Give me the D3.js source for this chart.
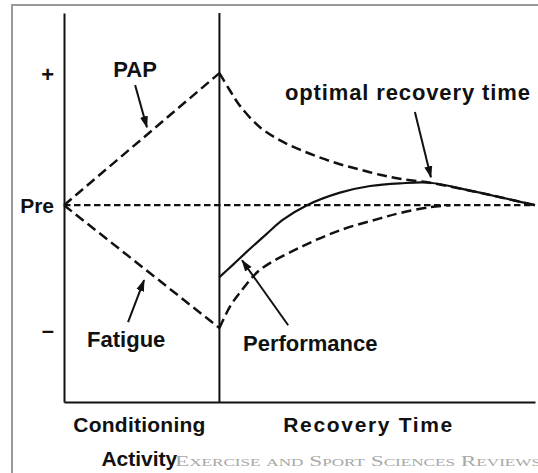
<!DOCTYPE html>
<html>
<head>
<meta charset="utf-8">
<script src="https://cdn.jsdelivr.net/npm/d3@7"></script>
<style>
  body { margin: 0; background: #fff; }
  svg { display: block; }
  .lbl { font-family: "Liberation Sans", Arial, sans-serif; font-weight: bold; fill: #111; }
</style>
</head>
<body>
<script>
// time runs 0..100 (conditioning ends at 33), response is relative to "Pre" = 0
const preLine = [[0, 0], [100, 0]];
const papRise = [[0, 0], [33, 100]];
const fatigueFall = [[0, 0], [33, -93]];

const papDecayX = [33, 35.2, 37.4, 41.6, 45.9, 50.1, 54.4, 58.6, 62.8, 67.1, 71.3, 77.7, 86.2, 92.6, 100];
const papDecayV = [100, 87, 75, 59, 49, 42, 36, 31, 27, 23, 20, 17, 11, 6, 0];

const fatigueRecX = [33, 35.2, 37.4, 41.6, 50.1, 58.6, 67.1, 71.3, 77.7, 82];
const fatigueRecV = [-93, -77, -66, -49, -32, -19, -10, -6, -1.5, 0];

const perfX = [33, 35.9, 39.5, 43.1, 46.5, 51.6, 58.6, 65, 71.3, 77.7, 86.2, 92.6, 100];
const perfV = [-54.5, -45, -33, -21.5, -11, 0, 9.5, 14.5, 16.5, 17, 11, 6, 0];

const yTicks = [100, 0, -94];
const yTickLabels = ["+", "Pre", "\u2013"];

const phaseNames = [["Conditioning", "Activity"], ["Recovery Time"]];
const phaseCenters = [16, 64.5];
const phaseEnd = 33;

// annotations: text, x, v (baseline), anchor
const labels = [
    { text: "PAP", x: 15.1, v: 97, anchor: "middle" },
    { text: "optimal recovery time", x: 46.9, v: 79.5, anchor: "start", len: 245 },
    { text: "Fatigue", x: 4.9, v: -107.6, anchor: "start" },
    { text: "Performance", x: 38, v: -110.6, anchor: "start" }
];
// arrows: tail -> tip
const arrows = [
    [[15.1, 90.9], [17.6, 59]],
    [[74.5, 70.5], [77.9, 21.2]],
    [[13.6, -88.6], [17.0, -56.8]],
    [[47.6, -90.9], [37.8, -41.7]]
];

const W = 538, H = 473;

const x = d3.scaleLinear().domain([0, 100]).range([64, 535]);
const y = d3.scaleLinear().domain([-149, 145.5]).range([402, 13]);

const svg = d3.select("body").append("svg")
    .attr("width", W)
    .attr("height", H);

// outer frame (cropped on the right/bottom)
svg.append("rect")
    .attr("x", 12).attr("y", 5)
    .attr("width", 560).attr("height", 500)
    .attr("fill", "none")
    .attr("stroke", "#999")
    .attr("stroke-width", 2);

svg.append("defs").append("marker")
    .attr("id", "head")
    .attr("markerUnits", "userSpaceOnUse")
    .attr("viewBox", "0 -5 12 10")
    .attr("markerWidth", 12).attr("markerHeight", 10)
    .attr("refX", 11).attr("refY", 0)
    .attr("orient", "auto")
    .append("path")
    .attr("d", "M0,-4L12,0L0,4Z")
    .attr("fill", "#111");

/**
 * Axes
 */
const yAxis = svg.append("g")
    .attr("transform", "translate(" + x(0) + ",0)")
    .call(d3.axisLeft(y)
        .tickValues(yTicks)
        .tickFormat((d, i) => yTickLabels[i])
        .tickSize(0)
        .tickSizeOuter(0)
        .tickPadding(10));

yAxis.select(".domain").attr("stroke", "#111").attr("stroke-width", 2);
yAxis.selectAll("text")
    .attr("class", "lbl")
    .style("font-size", "21px")
    .attr("dy", "0.36em");
yAxis.selectAll(".tick").filter((d, i) => i !== 1)
    .select("text").style("font-size", "22px");

const xAxis = svg.append("g")
    .attr("transform", "translate(0," + y.range()[0] + ")")
    .call(d3.axisBottom(x).tickValues([]).tickSizeOuter(0));
xAxis.select(".domain").attr("stroke", "#111").attr("stroke-width", 2);

// divider between conditioning and recovery
svg.append("line")
    .attr("x1", x(phaseEnd)).attr("x2", x(phaseEnd))
    .attr("y1", y.range()[1]).attr("y2", y.range()[0])
    .attr("stroke", "#111")
    .attr("stroke-width", 2);

const phase = svg.selectAll(".phase")
    .data(phaseNames)
    .enter().append("text")
    .attr("class", "lbl phase")
    .attr("text-anchor", "middle")
    .attr("x", (d, i) => x(phaseCenters[i]))
    .attr("y", y.range()[0] + 30)
    .style("font-size", "21px");

phase.selectAll("tspan")
    .data(d => d)
    .enter().append("tspan")
    .attr("x", function () { return this.parentNode.getAttribute("x"); })
    .attr("dy", (d, i) => i ? 34 : 0)
    .text(d => d);

svg.select(".phase").select("tspan").attr("textLength", 132);
svg.selectAll(".phase").filter((d, i) => i === 1)
    .select("tspan").attr("textLength", 169);

/**
 * Curves
 */
const line = d3.line()
    .x(d => x(d[0]))
    .y(d => y(d[1]));

const curve = d3.line()
    .x(d => x(d[0]))
    .y(d => y(d[1]))
    .curve(d3.curveCatmullRom.alpha(0.5));

svg.append("path")
    .datum(preLine)
    .attr("d", line)
    .attr("fill", "none")
    .attr("stroke", "#111")
    .attr("stroke-width", 2.2)
    .attr("stroke-dasharray", "6.5,3.5");

[papRise, fatigueFall].forEach(seg => {
    svg.append("path")
        .datum(seg)
        .attr("d", line)
        .attr("fill", "none")
        .attr("stroke", "#111")
        .attr("stroke-width", 2.5)
        .attr("stroke-dasharray", "10,5");
});

const zip = (xs, vs) => xs.map((d, i) => [d, vs[i]]);

[zip(papDecayX, papDecayV), zip(fatigueRecX, fatigueRecV)].forEach(seg => {
    svg.append("path")
        .datum(seg)
        .attr("d", curve)
        .attr("fill", "none")
        .attr("stroke", "#111")
        .attr("stroke-width", 2.5)
        .attr("stroke-dasharray", "10,5");
});

svg.append("path")
    .datum(zip(perfX, perfV))
    .attr("d", curve)
    .attr("fill", "none")
    .attr("stroke", "#111")
    .attr("stroke-width", 2.2);

/**
 * Annotations
 */
svg.selectAll(".arrow")
    .data(arrows)
    .enter().append("line")
    .attr("class", "arrow")
    .attr("x1", d => x(d[0][0])).attr("y1", d => y(d[0][1]))
    .attr("x2", d => x(d[1][0])).attr("y2", d => y(d[1][1]))
    .attr("stroke", "#111")
    .attr("stroke-width", 2)
    .attr("marker-end", "url(#head)");

svg.selectAll(".note")
    .data(labels)
    .enter().append("text")
    .attr("class", "lbl note")
    .attr("x", d => x(d.x))
    .attr("y", d => y(d.v))
    .attr("text-anchor", d => d.anchor)
    .attr("textLength", d => d.len || null)
    .style("font-size", "22px")
    .text(d => d.text);

// journal watermark
svg.append("text")
    .attr("x", 175)
    .attr("y", 466)
    .attr("textLength", 366)
    .attr("lengthAdjust", "spacingAndGlyphs")
    .style("font-family", "'Liberation Serif', 'DejaVu Serif', serif")
    .style("font-variant", "small-caps")
    .style("font-size", "15px")
    .style("fill", "#a8a8a8")
    .text("Exercise and Sport Sciences Reviews");
</script>
</body>
</html>
